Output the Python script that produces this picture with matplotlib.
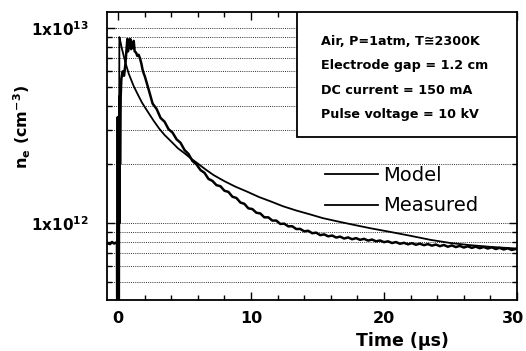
import matplotlib
matplotlib.use("Agg")
import matplotlib.pyplot as plt
import matplotlib.ticker as mticker
from matplotlib.patches import Rectangle
from matplotlib.lines import Line2D
from matplotlib.transforms import ScaledTranslation
import numpy as np

plt.rcParams['font.family'] = ['DejaVu Sans']
plt.rcParams['mathtext.fontset'] = 'custom'
plt.rcParams['mathtext.rm'] = 'DejaVu Sans:bold'
plt.rcParams['mathtext.it'] = 'DejaVu Sans:bold'
plt.rcParams['mathtext.bf'] = 'DejaVu Sans:bold'
plt.rcParams['mathtext.default'] = 'rm'

SCALE = 1e11

# Model (smooth), density in units of 1e11 cm^-3
model_t = [0.05, 0.1, 0.2, 0.3, 0.45, 0.6, 0.8, 1.0, 1.2, 1.5, 1.8, 2.1, 2.4, 2.7,
           3.1, 3.5, 4.0, 4.5, 5.0, 5.5, 6.0, 6.6, 7.2, 8.0, 8.8, 9.7, 10.6, 11.5,
           12.4, 13.4, 14.4, 15.4, 16.5, 17.7, 19.0, 20.5, 22.0, 23.5, 25.0, 26.5,
           28.0, 30.0]
model_n = [3.0, 90, 84, 78, 71, 65, 58.5, 54, 50, 45.5, 41.5, 38.5, 35.8, 33.3,
           30.5, 28.3, 26.2, 24.2, 22.8, 21.4, 20.2, 18.8, 17.6, 16.4, 15.4, 14.5,
           13.6, 12.9, 12.2, 11.6, 11.1, 10.6, 10.2, 9.8, 9.4, 9.0, 8.6, 8.2, 7.9,
           7.7, 7.55, 7.4]

# Measured (noisy), early part
meas_t_early = [-0.83, -0.6, -0.45, -0.3, -0.15, -0.08, -0.06, -0.04, -0.02, 0.0,
                0.03, 0.06, 0.08, 0.1, 0.12, 0.15, 0.2, 0.25, 0.35, 0.45, 0.55,
                0.65, 0.7, 0.75, 0.8, 0.85, 0.92, 0.98, 1.05, 1.12, 1.18, 1.25,
                1.35, 1.45, 1.55, 1.65, 1.75, 1.85, 1.95]
meas_n_early = [7.9, 7.8, 8.0, 7.85, 7.95, 7.9, 3.0, 7.9, 35, 7.9,
                3.0, 3.0, 30, 10, 45, 20, 45, 55, 60, 57, 65,
                80, 88, 76, 87, 80, 88, 78, 84, 79, 86, 76,
                75, 72, 73, 70, 66, 61, 58]

# Measured, decay part
meas_t_late = [2.0, 2.3, 2.6, 2.9, 3.2, 3.5, 3.8, 4.1, 4.4, 4.7, 5.0, 5.3, 5.6, 5.9,
               6.2, 6.5, 6.8, 7.1, 7.4, 7.7, 8.0, 8.3, 8.6, 8.9, 9.2, 9.5, 9.8,
               10.1, 10.4, 10.7, 11.0, 11.3, 11.6, 11.9, 12.2, 12.5, 12.8, 13.1,
               13.4, 13.7, 14.0, 14.3, 14.6, 14.9, 15.2, 15.5, 15.8, 16.1, 16.4,
               16.7, 17.0, 17.3, 17.6, 17.9, 18.2, 18.5, 18.8, 19.1, 19.4, 19.7,
               20.0, 20.3, 20.6, 20.9, 21.2, 21.5, 21.8, 22.1, 22.4, 22.7, 23.0,
               23.3, 23.6, 23.9, 24.2, 24.5, 24.8, 25.1, 25.4, 25.7, 26.0, 26.3,
               26.6, 26.9, 27.2, 27.5, 27.8, 28.1, 28.4, 28.7, 29.0, 29.3, 29.6,
               29.9]
meas_n_late = [57, 48.5, 41, 38.5, 34.6, 33.1, 30.3, 29.1, 26.9, 25.8, 23.7, 22.6,
               20.8, 20.0, 18.7, 18.1, 16.85, 16.45, 15.65, 15.45, 14.65, 14.45,
               13.65, 13.45, 12.75, 12.55, 11.9, 11.8, 11.3, 11.2, 10.7, 10.7, 10.3,
               10.3, 9.9, 9.93, 9.62, 9.63, 9.32, 9.33, 9.07, 9.13, 8.87, 8.93, 8.67,
               8.75, 8.55, 8.63, 8.43, 8.52, 8.33, 8.44, 8.26, 8.37, 8.2, 8.3, 8.13,
               8.23, 8.06, 8.14, 7.98, 8.06, 7.9, 7.99, 7.83, 7.92, 7.78, 7.89, 7.74,
               7.84, 7.7, 7.8, 7.66, 7.76, 7.61, 7.72, 7.56, 7.68, 7.53, 7.64, 7.49,
               7.6, 7.46, 7.57, 7.43, 7.54, 7.4, 7.51, 7.36, 7.46, 7.32, 7.42, 7.28,
               7.36]

x_ticks = [0, 10, 20, 30]
y_major = [1e12, 1e13]
y_major_labels = [r'1x10$^{12}$', r'1x10$^{13}$']
info_lines = ['Air, P=1atm, T\u22452300K', 'Electrode gap = 1.2 cm',
              'DC current = 150 mA', 'Pulse voltage = 10 kV']
legend_labels = ['Model', 'Measured']

fig = plt.figure(figsize=(5.26, 3.51), dpi=100)
ax = fig.add_axes([107/526, 1-300/351, 410/526, 288/351])

mt = np.array(model_t)
mn = np.array(model_n) * SCALE
et = np.array(meas_t_early + meas_t_late)
en = np.array(meas_n_early + meas_n_late) * SCALE

ax.plot(et, en, color='black', lw=1.8, zorder=3)
ax.plot(mt, mn, color='black', lw=1.3, zorder=3)

ax.set_yscale('log')
ax.set_xlim(-0.83, 30.0)
ax.set_ylim(4.03e11, 1.21e13)

ax.set_xticks(x_ticks)
ax.set_xticklabels([str(v) for v in x_ticks])
ax.xaxis.set_minor_locator(mticker.MultipleLocator(2))
ax.set_yticks(y_major)
ax.set_yticklabels(y_major_labels)
ax.yaxis.set_minor_locator(mticker.LogLocator(base=10, subs=np.arange(2, 10)))
ax.yaxis.set_minor_formatter(mticker.NullFormatter())

ax.tick_params(which='both', direction='in', top=True, right=True, width=1.0)
ax.tick_params(which='major', length=6)
ax.tick_params(which='minor', length=3.5)
ax.tick_params(axis='x', which='major', pad=8, labelsize=11.5)
ax.tick_params(axis='y', which='major', pad=13, labelsize=11)
for lab in ax.get_xticklabels() + ax.get_yticklabels():
    lab.set_fontweight('bold')
last = ax.get_xticklabels()[-1]
last.set_transform(last.get_transform() + ScaledTranslation(-4/100, 0, fig.dpi_scale_trans))

ax.grid(True, axis='y', which='both', linestyle=(0, (1, 1.2)), color='#333333', lw=0.7, zorder=1)
for s in ax.spines.values():
    s.set_linewidth(1.3)

ax.set_xlabel('Time (\u00b5s)', fontsize=12.5, fontweight='bold')
ax.xaxis.set_label_coords(0.72, -0.112)
ax.set_ylabel(r'n$_{\rm e}$ (cm$^{-3}$)', fontsize=11.5, fontweight='bold')
ax.yaxis.set_label_coords(-0.18, 0.60)

# info box
ax.add_patch(Rectangle((0.463, 0.566), 0.537, 0.434, transform=ax.transAxes,
                       facecolor='white', edgecolor='black', lw=1.3, zorder=4))
for i, line in enumerate(info_lines):
    ax.text(0.522, 0.896 - i*0.0835, line, transform=ax.transAxes, fontsize=9.2,
            fontweight='bold', va='center', ha='left', zorder=5)

# legend
leg_handles = [Line2D([], [], color='black', lw=1.3), Line2D([], [], color='black', lw=1.3)]
ax.legend(leg_handles, legend_labels, loc='center left', bbox_to_anchor=(0.532, 0.38),
          frameon=False, fontsize=14, handlelength=2.7, handletextpad=0.3,
          labelspacing=0.6, borderpad=0, borderaxespad=0)

fig.savefig('out.png', dpi=100)
